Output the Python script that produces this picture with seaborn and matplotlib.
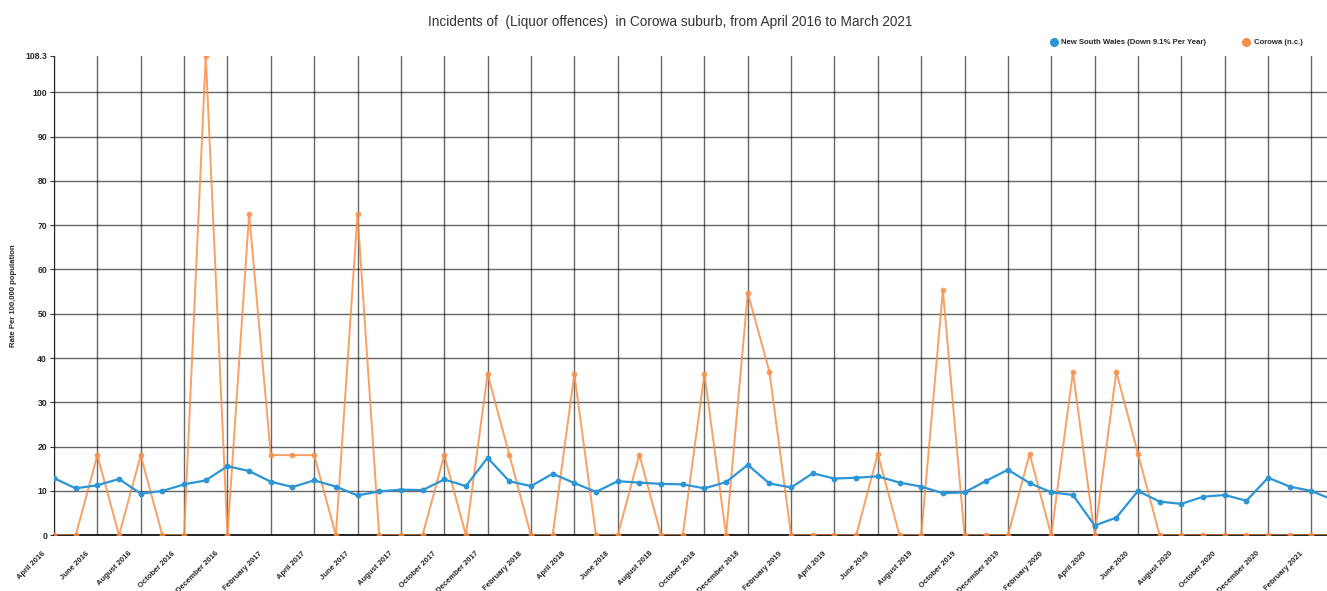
import numpy as np
import pandas as pd
import matplotlib
matplotlib.use('Agg')
import matplotlib.pyplot as plt
import matplotlib.transforms as mtransforms
import seaborn as sns
from matplotlib.lines import Line2D

# monthly rates per 100,000, April 2016 .. March 2021
months = pd.date_range('2016-04-01', periods = 60, freq = 'MS')
month_labels = [m.strftime('%B %Y') for m in months]

nsw = [12.9, 10.6, 11.3, 12.7, 9.4, 10.0, 11.5, 12.4, 15.6, 14.5, 12.1, 10.9,
       12.4, 11.0, 9.0, 9.9, 10.3, 10.2, 12.6, 11.1, 17.5, 12.2, 11.1, 13.9,
       11.8, 9.8, 12.2, 11.9, 11.6, 11.5, 10.6, 12.0, 15.9, 11.7, 10.8, 14.0,
       12.8, 13.0, 13.3, 11.9, 11.0, 9.5, 9.7, 12.3, 14.8, 11.8, 9.7, 9.1,
       2.2, 4.0, 10.0, 7.6, 7.1, 8.7, 9.1, 7.8, 13.0, 11.0, 10.0, 8.0]

corowa = [0, 0, 18.05, 0, 18.05, 0, 0, 108.3, 0, 72.5, 18.1, 18.1,
          18.1, 0, 72.5, 0, 0, 0, 18.1, 0, 36.4, 18.2, 0, 0,
          36.4, 0, 0, 18.2, 0, 0, 36.4, 0, 54.7, 36.9, 0, 0,
          0, 0, 18.4, 0, 0, 55.3, 0, 0, 0, 18.4, 0, 36.9,
          0, 36.9, 18.4, 0, 0, 0, 0, 0, 0, 0, 0, 0]

series_names = ['New South Wales (Down 9.1% Per Year)', 'Corowa (n.c.)']
colors = ['#2b95d6', '#f7904a']
y_max = 108.3

df = pd.DataFrame({'idx': np.arange(len(months)), 'nsw': nsw, 'corowa': corowa})

sns.set_style('white')
plt.rcParams['font.family'] = ['Liberation Sans', 'DejaVu Sans']

fig = plt.figure(figsize = (13.27, 5.91), dpi = 100)
ax = fig.add_axes([54 / 1327, 1 - 535.3 / 591, 1 - 54 / 1327, (535.3 - 55.5) / 591])

sns.lineplot(data = df, x = 'idx', y = 'nsw', ax = ax, color = colors[0], linewidth = 1.6,
             marker = 'o', markersize = 4.2, markeredgewidth = 0, zorder = 4)
sns.lineplot(data = df, x = 'idx', y = 'corowa', ax = ax, color = colors[1], linewidth = 1.4,
             marker = 'o', markersize = 4.2, markeredgewidth = 0, alpha = 0.85, zorder = 3)

ax.set_xlim(0, (1327 - 54) / 21.68)
ax.set_ylim(0, y_max)

yticks = list(range(0, 101, 10)) + [y_max]
ax.set_yticks(yticks)
ax.set_yticklabels([str(t) for t in yticks], fontsize = 6.2, fontweight = 'bold')
xticks = df['idx'][::2]
ax.set_xticks(xticks)
ax.set_xticklabels(month_labels[::2], rotation = 45, ha = 'right', rotation_mode = 'anchor',
                   fontsize = 5.5, fontweight = 'bold')
ax.tick_params(axis = 'x', length = 0, pad = 2)
ax.tick_params(axis = 'y', length = 3, width = 0.8, color = '#333333', pad = 2, left = True)
shift = mtransforms.ScaledTranslation(-12 / 100, -12 / 100, fig.dpi_scale_trans)
for lab in ax.get_xticklabels():
    lab.set_transform(lab.get_transform() + shift)

ax.grid(True, color = '#000000', alpha = 0.6, linewidth = 1)
ax.yaxis.get_gridlines()[-1].set_visible(False)
for s in ['top', 'right']:
    ax.spines[s].set_visible(False)
ax.spines['left'].set_color('#222222')
ax.spines['bottom'].set_color('#111111')
ax.spines['bottom'].set_linewidth(1.3)

ax.set_xlabel('')
ax.set_ylabel('Rate Per 100,000 population', fontsize = 5.6, fontweight = 'bold')
ax.yaxis.set_label_coords(-0.029, 0.5)

fig.suptitle('Incidents of  (Liquor offences)  in Corowa suburb, from April 2016 to March 2021',
             fontsize = 9.8, color = '#333333', x = 0.505, y = 0.975)

handles = [Line2D([], [], linestyle = 'none', marker = 'o', markersize = 6.5,
                  color = c, markeredgewidth = 0) for c in colors]
leg = fig.legend(handles, series_names, loc = 'center right', bbox_to_anchor = (0.987, 0.928),
                 ncol = 2, frameon = False, handletextpad = 0.5, columnspacing = 4.6,
                 handlelength = 1, prop = {'size': 5.6, 'weight': 'bold'})

plt.savefig('out.png', dpi = 100)
plt.close(fig)
